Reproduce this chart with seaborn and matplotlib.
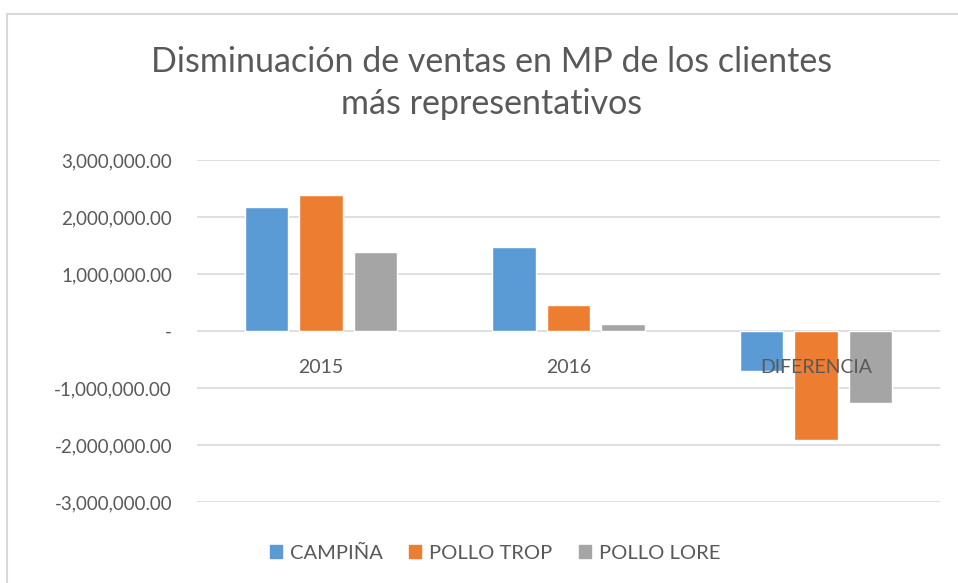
import pandas as pd
import seaborn as sns
import matplotlib.pyplot as plt
from matplotlib.patches import Rectangle
from matplotlib.ticker import FuncFormatter, MultipleLocator

# data
categorias = ["2015", "2016", "DIFERENCIA"]
campina = [2180000, 1480000, -700000]
pollo_trop = [2380000, 458000, -1920000]
pollo_lore = [1385000, 123000, -1262000]
series = ["CAMPIÑA", "POLLO TROP", "POLLO LORE"]
colores = ["#5B9BD5", "#ED7D31", "#A5A5A5"]

df = pd.DataFrame({
    "categoria": categorias * 3,
    "cliente": [s for s in series for _ in categorias],
    "valor": campina + pollo_trop + pollo_lore,
})

sns.set_style("white")
plt.rcParams["font.family"] = ["Lato", "DejaVu Sans"]
txt = "#595959"

fig = plt.figure(figsize=(9.58, 5.83), dpi=100)
ax = fig.add_axes([197/958, 1-502/583, 743/958, 342/583])

sns.barplot(data=df, x="categoria", y="valor", hue="cliente", palette=colores,
            saturation=1, width=0.66, gap=0.2, ax=ax, legend=False, zorder=2)

ax.set_ylim(-3000000, 3000000)
ax.set_xlim(-0.5, 2.5)
ax.yaxis.set_major_locator(MultipleLocator(1000000))
ax.yaxis.set_major_formatter(FuncFormatter(lambda v, p: "-" if v == 0 else f"{v:,.2f}"))
ax.grid(axis="y", color="#D9D9D9", linewidth=1.2, zorder=0)
ax.set_axisbelow(True)
for s in ax.spines.values():
    s.set_visible(False)
ax.spines["bottom"].set_position(("data", 0))
ax.xaxis.set_zorder(5)
ax.tick_params(axis="y", length=0, pad=18, labelsize=13.5, labelcolor=txt)
ax.tick_params(axis="x", length=0, pad=20, labelsize=14, labelcolor=txt)
ax.set_xlabel("")
ax.set_ylabel("")

fig.text(0.513, 1-83/583, "Disminuación de ventas en MP de los clientes\nmás representativos",
         ha="center", va="center", fontsize=24.5, color=txt, linespacing=1.35)

handles = [Rectangle((0, 0), 1, 1, color=c) for c in colores]
fig.legend(handles, series, loc="center", bbox_to_anchor=(0.517, 1-553/583), ncol=3,
           frameon=False, fontsize=14.5, labelcolor=txt, handlelength=0.6, handleheight=0.6,
           handletextpad=0.4, columnspacing=1.3)

fig.patches.append(Rectangle((7/958, -0.1), 1.2, 1-14/583+0.1, transform=fig.transFigure,
                             fill=False, edgecolor="#D9D9D9", linewidth=1.5))

fig.savefig("out.png", dpi=100)
